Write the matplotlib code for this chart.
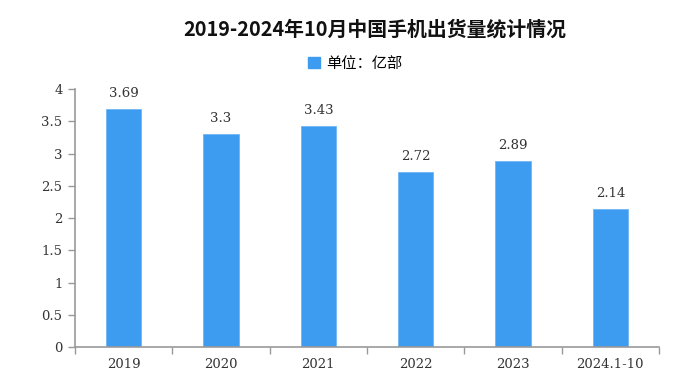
import matplotlib
matplotlib.use("Agg")
import matplotlib.pyplot as plt
from matplotlib.patches import Patch

plt.rcParams['font.family'] = ['Noto Sans CJK SC', 'DejaVu Sans']

categories = ["2019", "2020", "2021", "2022", "2023", "2024.1-10"]
values = [3.69, 3.3, 3.43, 2.72, 2.89, 2.14]
yticks = [0, 0.5, 1, 1.5, 2, 2.5, 3, 3.5, 4]
ytick_labels = ["0", "0.5", "1", "1.5", "2", "2.5", "3", "3.5", "4"]
title = "2019-2024年10月中国手机出货量统计情况"
legend_label = "单位：亿部"

color = "#3d9cf0"
axis_color = "#999999"

fig = plt.figure(figsize=(6.97, 3.83), dpi=100)
ax = fig.add_axes([0.1076, 0.094, 0.8379, 0.6736])

x = list(range(len(categories)))
bars = ax.bar(x, values, width=0.36, color=color, edgecolor="#6fb6f5", linewidth=0.6, zorder=2)
for xi, v in zip(x, values):
    ax.text(xi, v + 0.14, f"{v:g}", ha="center", va="bottom",
            fontsize=9.5, color="#333333", family=['DejaVu Serif'])

ax.set_xlim(-0.5, len(categories) - 0.5)
ax.set_ylim(0, 4)
ax.set_yticks(yticks)
ax.set_yticklabels(ytick_labels, fontsize=9.5, color="#333333", family=['DejaVu Serif'])
ax.set_xticks(x)
ax.set_xticklabels(categories, fontsize=9.5, color="#333333", family=['DejaVu Serif'])
ax.tick_params(axis='x', length=0, pad=8)
# category boundary ticks
ax.set_xticks([i - 0.5 for i in range(len(categories) + 1)], minor=True)
ax.tick_params(axis='x', which='minor', length=5, color=axis_color, width=1)
ax.tick_params(axis='y', length=5, color=axis_color, width=1, pad=4)

for s in ["top", "right"]:
    ax.spines[s].set_visible(False)
for s in ["left", "bottom"]:
    ax.spines[s].set_color(axis_color)
    ax.spines[s].set_linewidth(1.2)

fig.text(0.538, 0.925, title, ha="center", va="center", fontsize=14.3, fontweight="bold", color="#111111")
fig.legend(handles=[Patch(facecolor=color, edgecolor=color)], labels=[legend_label],
           loc="center", bbox_to_anchor=(0.51, 0.835), frameon=False, fontsize=11,
           handlelength=0.8, handleheight=0.8, handletextpad=0.4)

fig.savefig("out.png", dpi=100)
